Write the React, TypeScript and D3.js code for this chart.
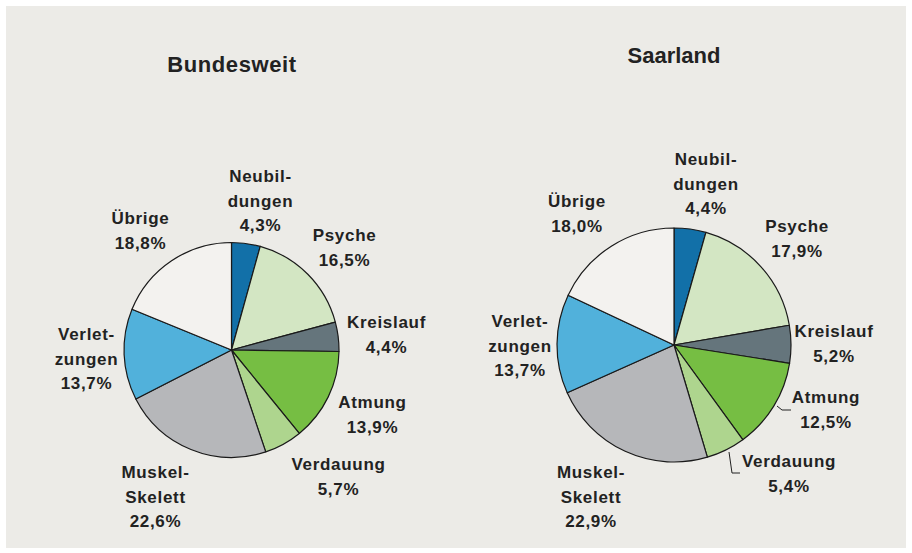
import React from "react";
import * as d3 from "d3";

const categories = ["Neubildungen", "Psyche", "Kreislauf", "Atmung", "Verdauung", "Muskel-Skelett", "Verletzungen", "Übrige"];
const labelLines = [["Neubil-", "dungen"], ["Psyche"], ["Kreislauf"], ["Atmung"], ["Verdauung"], ["Muskel-", "Skelett"], ["Verlet-", "zungen"], ["Übrige"]];
const bundesweitValues = [4.3, 16.5, 4.4, 13.9, 5.7, 22.6, 13.7, 18.8];
const saarlandValues = [4.4, 17.9, 5.2, 12.5, 5.4, 22.9, 13.7, 18.0];
const titles = ["Bundesweit", "Saarland"];

const colors = ["#1270A8", "#D3E6C3", "#65757C", "#76BE43", "#AED58E", "#B6B7BA", "#51B1DB", "#F3F2EF"];

// layout: label anchor offsets (first baseline) relative to pie center
const layouts = [
  {
    cx: 231.5, cy: 350, r: 107.5, titleX: 232, titleY: 72, titleSpacing: 0.6,
    labelOffsets: [[29, -168], [113, -109], [155, -22], [141, 58], [107, 120], [-76, 128], [-145, -10], [-91, -126]],
    leaders: [] as number[][][],
  },
  {
    cx: 674, cy: 345, r: 117, titleX: 674, titleY: 63, titleSpacing: 0,
    labelOffsets: [[32, -180], [123, -113], [160, -8], [152, 58], [115, 122], [-83, 133], [-154, -18], [-97, -138]],
    leaders: [[[777, 406], [782, 410], [791, 410]], [[729, 452], [732, 473], [740, 473]]],
  },
];

const fmt = (v: number) => v.toFixed(1).replace(".", ",") + "%";

function Pie({ values, layout, title }: { values: number[]; layout: typeof layouts[0]; title: string }) {
  const pie = d3.pie<number>().sort(null).value((d) => d);
  const arcs = pie(values);
  const arc = d3.arc<d3.PieArcDatum<number>>().innerRadius(0).outerRadius(layout.r);
  const lineGen = d3.line();
  const lh = 24.5;
  return (
    <g>
      <text x={layout.titleX} y={layout.titleY} textAnchor="middle" fontSize={22} fontWeight="bold" letterSpacing={layout.titleSpacing} fill="#222">
        {title}
      </text>
      <g transform={`translate(${layout.cx},${layout.cy})`}>
        {arcs.map((a, i) => (
          <path key={i} d={arc(a) || ""} fill={colors[i]} stroke="#1a1a1a" strokeWidth={1.2} strokeLinejoin="round" />
        ))}
      </g>
      {layout.leaders.map((pts, i) => (
        <path key={i} d={lineGen(pts as [number, number][]) || ""} fill="none" stroke="#222" strokeWidth={1} />
      ))}
      {arcs.map((a, i) => {
        const [dx, dy] = layout.labelOffsets[i];
        const lines = [...labelLines[i], fmt(values[i])];
        return (
          <text key={i} textAnchor="middle" fontSize={17} fontWeight="bold" letterSpacing={0.7} fill="#222">
            {lines.map((l, j) => (
              <tspan key={j} x={layout.cx + dx} y={layout.cy + dy + j * lh}>
                {l}
              </tspan>
            ))}
          </text>
        );
      })}
    </g>
  );
}

export default function App() {
  return (
    <svg width={912} height={553} style={{ display: "block", position: "absolute", left: 0, top: 0, fontFamily: "'Liberation Sans', Arial, sans-serif" }}>
      <rect x={0} y={0} width={912} height={553} fill="#ffffff" />
      <rect x={6} y={6} width={900} height={542} fill="#ECEBE7" />
      <Pie values={bundesweitValues} layout={layouts[0]} title={titles[0]} />
      <Pie values={saarlandValues} layout={layouts[1]} title={titles[1]} />
    </svg>
  );
}
